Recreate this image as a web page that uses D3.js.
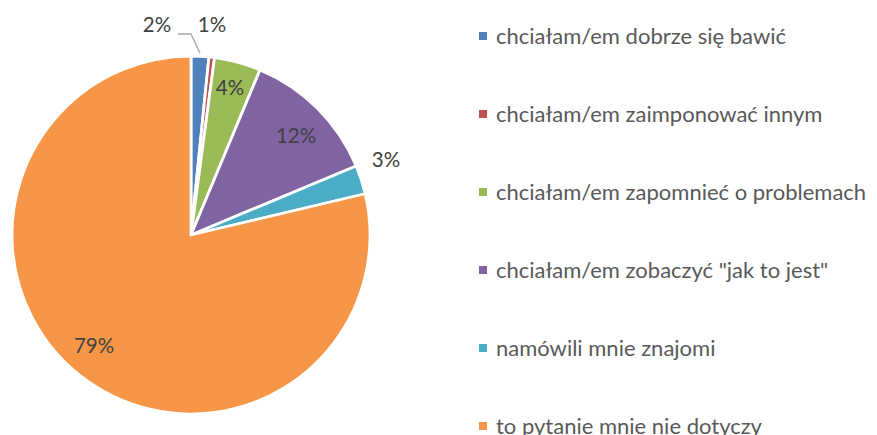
<!DOCTYPE html>
<html><head><meta charset="utf-8">
<script src="https://cdn.jsdelivr.net/npm/d3@7"></script>
<style>body{margin:0;background:#fff}svg{display:block}</style>
</head><body>
<svg id="c" width="877" height="435"></svg>
<script>
const categories = ["chciałam/em dobrze się bawić","chciałam/em zaimponować innym","chciałam/em zapomnieć o problemach","chciałam/em zobaczyć \"jak to jest\"","namówili mnie znajomi","to pytanie mnie nie dotyczy"];
const values = [1.6, 0.5, 4.2, 12.4, 2.6, 78.7];
const colors = ["#4F81BD","#C0504D","#9BBB59","#8064A2","#4BACC6","#F79646"];
const labelText = ["2%","1%","4%","12%","3%","79%"];

const svg = d3.select("#c");
const cx = 191, cy = 235, R = 179;
const pie = d3.pie().sort(null).value(d => d)(values);
const arc = d3.arc().innerRadius(0).outerRadius(R);
const g = svg.append("g").attr("transform", `translate(${cx},${cy})`);
g.selectAll("path").data(pie).join("path")
  .attr("d", arc).attr("fill", (d,i) => colors[i])
  .attr("stroke", "#fff").attr("stroke-width", 2.8).attr("stroke-linejoin","round");

const font = "Lato, 'Open Sans', sans-serif";
const lblPos = [
  [157, 25], [212, 25], [230, 88], [296, 136], [386, 160], [94, 346]
];
pie.forEach((d,i) => {
  const p = lblPos[i];
  g.append("text").attr("x", p[0]-cx).attr("y", p[1]-cy).attr("dy","0.35em")
   .attr("text-anchor","middle").attr("font-family", font).attr("font-size", 20.5)
   .attr("fill","#404040").text(labelText[i]);
});
// leader line for 2%
const a0 = pie[0];
const mid = (a0.startAngle + a0.endAngle)/2;
const ex = Math.sin(mid)*R, ey = -Math.cos(mid)*R;
g.append("polyline")
  .attr("points", `${178-cx},${34-cy} ${191-cx},${34-cy} ${ex},${ey-3}`)
  .attr("fill","none").attr("stroke","#A6A6A6").attr("stroke-width",1.3);

// legend
const ly = d3.scalePoint().domain(d3.range(categories.length)).range([36, 426]);
const lg = svg.append("g");
categories.forEach((c,i) => {
  lg.append("rect").attr("x", 479).attr("y", ly(i)-4).attr("width", 8).attr("height", 8).attr("fill", colors[i]);
  lg.append("text").attr("x", 496).attr("y", ly(i)).attr("dy","0.35em")
    .attr("font-family", font).attr("font-size", 22).attr("fill","#595959").text(c);
});
</script>
</body></html>
